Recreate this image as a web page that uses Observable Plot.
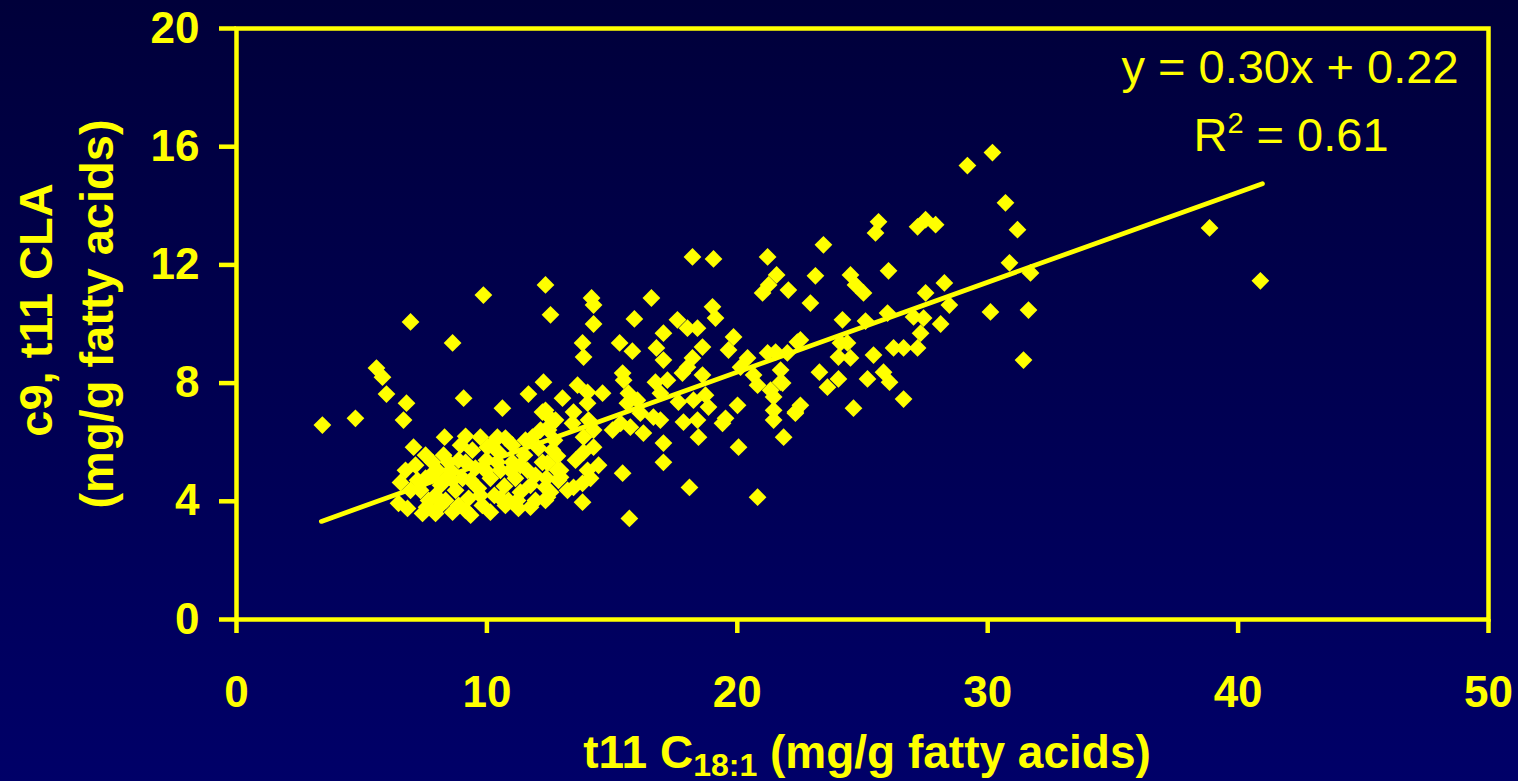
<!DOCTYPE html>
<html>
<head>
<meta charset="utf-8">
<script src="https://cdn.jsdelivr.net/npm/d3@7"></script>
<script src="https://cdn.jsdelivr.net/npm/@observablehq/plot@0.6"></script>
<style>
  html, body { margin: 0; padding: 0; }
  body { width: 1518px; height: 781px; overflow: hidden;
         background: linear-gradient(#00003a, #000068); }
  #chart svg { display: block; }
</style>
</head>
<body>
<div id="chart"></div>
<script>
// ---- data ----
const xTicks = [0, 10, 20, 30, 40, 50];
const yTicks = [0, 4, 8, 12, 16, 20];

// t11 C18:1 (mg/g fatty acids)
const t11 = [
  3.43, 4.75, 5.59, 5.83, 5.99, 6.79, 6.67, 6.95, 7.07, 8.63, 9.07, 9.86, 10.62, 8.31, 9.15, 9.74, 10.42, 10.74, 8.27, 6.75,
  6.55, 8.03, 8.43, 6.47, 6.83, 7.43, 11.26, 11.66, 12.26, 12.34, 12.54, 12.54, 12.34, 7.23, 7.55, 7.95, 8.63, 9.15, 10.02, 11.82,
  12.54,
  7.35, 7.67, 7.83, 8.15, 8.35, 8.55, 8.75, 8.87, 9.03, 9.27, 9.42, 9.54, 9.66, 9.82, 9.98, 10.14, 10.30, 10.46, 10.54, 10.70,
  10.86, 11.02, 11.14, 11.34, 11.50, 11.62, 11.74, 11.94, 12.06, 12.22, 12.38, 12.54, 12.70, 12.82, 12.94, 9.35, 10.14, 10.74, 11.74, 12.34,
  8.95, 8.15, 7.75, 11.02, 10.34,
  6.95, 7.15, 7.55, 7.95, 8.47, 8.87, 9.15, 9.35, 9.74, 9.94, 10.42, 10.54, 10.94, 11.22, 11.34, 11.54, 11.94, 12.14, 12.62, 12.86,
  7.59, 8.63,
  18.21, 19.05, 21.21, 21.57, 21.25, 21.01, 22.04, 14.18, 14.26, 14.26, 16.57, 15.89, 19.01, 19.13, 17.61, 18.01, 18.41, 17.05, 19.85, 19.65,
  13.82, 13.86, 15.30, 15.81, 16.77, 17.05, 18.61, 18.21, 18.01, 17.81, 20.41, 20.13, 21.21, 21.53, 22.00, 22.40, 15.42, 15.46, 18.61, 20.65,
  20.81, 21.33, 21.45, 21.73, 13.62, 14.02, 14.62, 13.02, 15.65, 16.01, 15.61, 16.73, 17.21, 16.93, 17.65, 18.25, 18.73, 18.85, 20.01, 21.45,
  22.32, 12.22, 12.74, 12.46, 14.02, 13.46, 13.42, 14.06, 14.26, 13.86, 15.02, 15.34, 15.73, 16.25, 16.13, 16.65, 16.93, 17.85, 18.41, 18.45,
  19.53, 19.41, 21.45, 21.85, 20.05, 17.05, 17.05, 14.26, 13.86, 13.54, 14.46, 14.02, 15.42, 12.42, 12.82, 12.94, 13.46, 13.22, 13.82, 14.14,
  12.34, 12.42, 13.82, 18.09, 20.81, 15.69,
  30.71, 31.19, 25.64, 25.52, 27.20, 27.52, 27.92, 23.44, 23.12, 24.52, 24.72, 25.04, 26.04, 27.52, 28.27, 30.87, 31.71, 30.11, 31.63, 31.43,
  28.47, 28.12, 27.32, 27.04, 27.44, 26.00, 25.12, 24.20, 22.52, 22.92, 24.12, 24.40, 24.04, 24.52, 25.44, 26.24, 26.64, 27.20, 23.28, 23.60,
  24.04, 25.20, 25.84, 26.08, 26.64, 24.64, 22.52, 22.32, 21.73, 21.81, 38.86, 40.89, 29.19, 30.19
];
// c9, t11 CLA (mg/g fatty acids)
const cla = [
  6.58, 6.81, 8.51, 8.20, 7.63, 7.32, 6.75, 10.07, 5.83, 9.36, 7.49, 10.98, 7.15, 6.17, 6.20, 6.17, 6.17, 6.14, 5.56, 5.05,
  4.64, 5.05, 4.81, 3.93, 3.76, 3.59, 3.76, 7.63, 8.03, 7.08, 6.81, 10.31, 11.32, 4.71, 4.78, 3.59, 3.63, 3.69, 5.83, 6.17,
  6.58,
  4.37, 4.03, 5.32, 4.54, 4.03, 5.05, 4.37, 5.39, 4.78, 4.10, 5.73, 5.12, 4.44, 3.86, 5.39, 4.78, 4.20, 5.66, 5.05, 4.51,
  4.03, 5.32, 4.78, 4.31, 5.56, 5.05, 4.54, 4.03, 5.80, 5.32, 4.78, 4.31, 6.07, 5.53, 5.05, 3.53, 3.63, 3.86, 3.80, 4.03,
  5.90, 3.86, 4.88, 5.90, 6.07,
  4.37, 5.22, 5.56, 4.20, 5.32, 3.86, 5.32, 4.71, 4.20, 5.05, 5.32, 4.10, 5.05, 4.03, 5.22, 6.07, 4.88, 6.41, 5.73, 4.71,
  3.80, 4.71,
  12.27, 12.20, 12.27, 11.66, 11.32, 11.05, 11.15, 10.88, 10.64, 10.00, 10.88, 10.17, 10.58, 10.20, 10.14, 9.86, 9.86, 9.69, 9.56, 9.12,
  9.36, 8.88, 9.36, 9.08, 9.19, 8.78, 9.22, 8.85, 8.54, 8.34, 8.85, 8.54, 9.02, 9.05, 9.02, 9.39, 8.34, 8.10, 8.27, 8.27,
  7.93, 7.76, 7.53, 8.03, 7.93, 7.69, 7.66, 7.49, 7.66, 7.42, 7.32, 8.03, 8.10, 7.66, 7.36, 7.42, 7.59, 7.19, 7.25, 7.08,
  7.02, 7.02, 6.75, 6.41, 7.32, 7.02, 6.64, 6.75, 6.41, 6.17, 6.41, 6.64, 6.51, 6.31, 6.98, 6.85, 6.75, 6.68, 6.75, 6.17,
  6.81, 6.64, 6.75, 6.17, 5.83, 5.97, 5.32, 5.83, 5.66, 5.39, 5.22, 5.05, 4.95, 5.29, 5.05, 4.81, 4.47, 4.37, 4.61, 4.78,
  4.47, 4.14, 3.97, 4.47, 4.14, 3.42,
  14.10, 13.19, 13.46, 13.08, 13.29, 13.53, 13.36, 12.68, 11.63, 11.66, 11.32, 11.05, 11.80, 11.05, 11.39, 12.07, 11.73, 10.41, 10.47, 8.78,
  10.64, 10.00, 9.69, 10.24, 10.20, 10.37, 10.10, 10.14, 9.46, 10.71, 9.36, 9.36, 8.88, 8.85, 8.95, 9.19, 9.19, 9.19, 8.37, 7.86,
  8.14, 8.14, 8.37, 8.03, 7.46, 7.15, 7.25, 6.98, 8.44, 8.00, 13.25, 11.46, 15.36, 15.80
];

// fitted line end points, as drawn
const trendX = [3.39, 40.97];
const trendY = [3.32, 14.75];

const eqText = "y = 0.30x + 0.22";
const r2Label = "R";
const r2Sup = "2";
const r2Value = " = 0.61";
const yTitle1 = "c9, t11 CLA";
const yTitle2 = "(mg/g fatty acids)";
const xTitleA = "t11 C";
const xTitleSub = "18:1";
const xTitleB = " (mg/g fatty acids)";

// ---- build ----
const YEL = "#ffff00";
const points = t11.map((x, i) => ({x, y: cla[i]}));
const trend = trendX.map((x, i) => ({x, y: trendY[i]}));

const W = 1518, H = 781;
const mL = 236, mR = 30, mT = 28, mB = 162;

const plot = Plot.plot({
  width: W, height: H,
  marginLeft: mL, marginRight: mR, marginTop: mT, marginBottom: mB,
  style: {background: "transparent", color: YEL, fontFamily: "'Liberation Sans', Arial, sans-serif", overflow: "visible"},
  x: {domain: [0, 50]},
  y: {domain: [0, 20]},
  marks: [
    Plot.frame({stroke: YEL, strokeWidth: 4.5}),
    Plot.axisY({ticks: yTicks, tickSize: 17, tickPadding: 20, strokeWidth: 4.5, fontSize: 44, fontWeight: "bold", label: null, tickFormat: d => String(d)}),
    Plot.axisX({ticks: xTicks, tickSize: 14, tickPadding: 42, strokeWidth: 4.5, fontSize: 44, fontWeight: "bold", label: null, tickFormat: d => String(d)}),
    Plot.line(trend, {x: "x", y: "y", stroke: YEL, strokeWidth: 4.8, strokeLinecap: "round"}),
    Plot.dot(points, {x: "x", y: "y", symbol: "diamond2", r: 8, fill: YEL, stroke: "none"})
  ]
});

document.getElementById("chart").appendChild(plot);

const svg = d3.select(plot);
const font = "'Liberation Sans', Arial, sans-serif";

// equation
svg.append("text")
  .attr("x", 1290).attr("y", 83)
  .attr("text-anchor", "middle").attr("fill", YEL)
  .style("font", `47px ${font}`)
  .text(eqText);

const r2 = svg.append("text")
  .attr("x", 1291).attr("y", 151)
  .attr("text-anchor", "middle").attr("fill", YEL)
  .style("font", `47px ${font}`);
r2.append("tspan").text(r2Label);
r2.append("tspan").attr("dy", -18).style("font-size", "29px").text(r2Sup);
r2.append("tspan").attr("dy", 18).text(r2Value);

// y title
svg.append("text")
  .attr("transform", "translate(52,310) rotate(-90)")
  .attr("text-anchor", "middle").attr("fill", YEL)
  .style("font", `bold 47px ${font}`)
  .text(yTitle1);
svg.append("text")
  .attr("transform", "translate(113,314) rotate(-90)")
  .attr("text-anchor", "middle").attr("fill", YEL)
  .style("font", `bold 47px ${font}`)
  .text(yTitle2);

// x title
const xt = svg.append("text")
  .attr("x", 867).attr("y", 768)
  .attr("text-anchor", "middle").attr("fill", YEL)
  .style("font", `bold 46px ${font}`);
xt.append("tspan").text(xTitleA);
xt.append("tspan").attr("dy", 8).style("font-size", "32px").text(xTitleSub);
xt.append("tspan").attr("dy", -8).text(xTitleB);
</script>
</body>
</html>
